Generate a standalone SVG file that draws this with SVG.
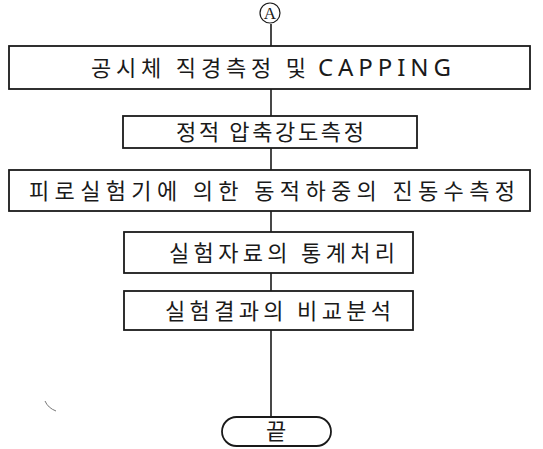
<svg xmlns="http://www.w3.org/2000/svg" width="543" height="449" viewBox="0 0 543 449">
<style>
.box{fill:#fff;stroke:#1a1a1a;stroke-width:1.8}
.t{font-family:"Noto Sans CJK KR","Noto Sans",sans-serif;font-size:22px;fill:#1a1a1a;text-anchor:middle}
.c{stroke:#1a1a1a;stroke-width:1.6;fill:none}
</style>
<rect width="543" height="449" fill="#fff"/>
<g id="connectors">
<line class="c" x1="271" y1="24" x2="271" y2="46"/>
<line class="c" x1="271" y1="89" x2="271" y2="116"/>
<line class="c" x1="271" y1="148" x2="271" y2="170"/>
<line class="c" x1="271" y1="211" x2="271" y2="232"/>
<line class="c" x1="271" y1="273" x2="271" y2="291"/>
<line class="c" x1="271" y1="330" x2="271" y2="417"/>
</g>
<g id="connectorA">
<circle cx="270" cy="13" r="10" fill="#fff" stroke="#1a1a1a" stroke-width="1.2"/>
<text x="270" y="19" font-family="Liberation Serif,serif" font-size="17" text-anchor="middle" fill="#1a1a1a">A</text>
</g>
<g id="n1">
<rect class="box" x="9" y="46" width="521" height="43"/>
<text class="t" x="91" y="76" style="text-anchor:start" textLength="215" lengthAdjust="spacing">공시체 직경측정 및</text>
<text class="t" x="318" y="76" style="text-anchor:start;font-family:'Noto Sans',sans-serif;font-size:24px" textLength="133" lengthAdjust="spacing">CAPPING</text>
</g>
<g id="n2">
<rect class="box" x="123" y="116" width="294" height="32"/>
<text class="t" x="270" y="140" textLength="188" lengthAdjust="spacing">정적 압축강도측정</text>
</g>
<g id="n3">
<rect class="box" x="9" y="170" width="521" height="41"/>
<text class="t" x="272" y="199" textLength="486" lengthAdjust="spacing">피로실험기에 의한 동적하중의 진동수측정</text>
</g>
<g id="n4">
<rect class="box" x="124" y="232" width="289" height="41"/>
<text class="t" x="282" y="261" textLength="226" lengthAdjust="spacing">실험자료의 통계처리</text>
</g>
<g id="n5">
<rect class="box" x="124" y="291" width="289" height="39"/>
<text class="t" x="278" y="319" textLength="226" lengthAdjust="spacing">실험결과의 비교분석</text>
</g>
<g id="end">
<rect class="box" x="222" y="417" width="109" height="29" rx="14.5"/>
<text class="t" x="276" y="439" font-size="20">끝</text>
</g>
<path d="M45,401 Q48,408 56,411" stroke="#777" stroke-width="1" fill="none"/>
</svg>
